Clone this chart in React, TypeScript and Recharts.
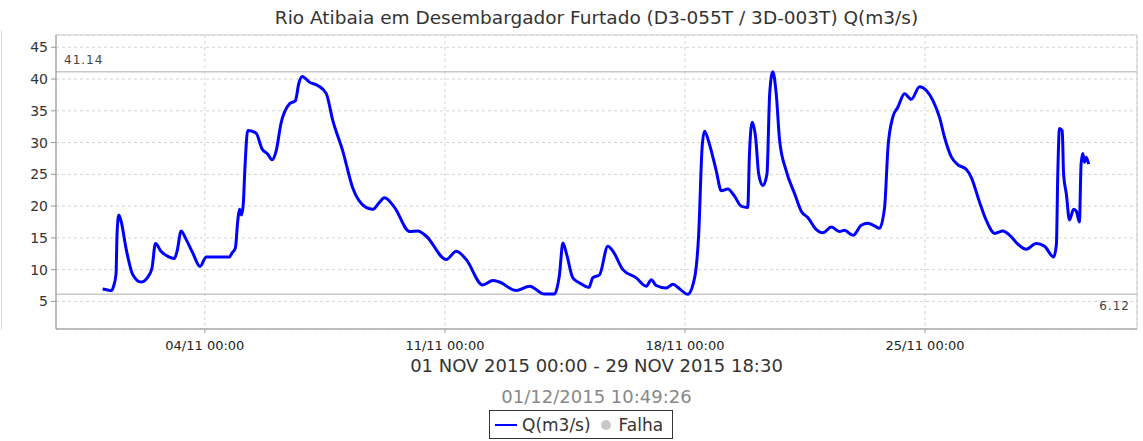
import {
  LineChart, Line, XAxis, YAxis, CartesianGrid, ReferenceLine, ReferenceArea,
} from 'recharts'

// days since 01 NOV 2015 00:00
const days = [
  0.02, 0.16, 0.27, 0.34, 0.41, 0.44, 0.49, 0.56, 0.70, 0.90, 1.14, 1.38, 1.46, 1.56, 1.72, 1.92,
  2.11, 2.19, 2.31, 2.45, 2.65, 2.86, 3.04, 3.72, 3.79, 3.89, 3.96, 4.01, 4.07, 4.12, 4.17, 4.25,
  4.49, 4.67, 4.83, 4.96, 5.08, 5.22, 5.47, 5.64, 5.74, 5.84, 6.05, 6.29, 6.54, 6.73, 7.02, 7.31,
  7.70, 7.90, 8.09, 8.24, 8.53, 8.97, 9.21, 9.45, 10.04, 10.33, 10.62, 11.10, 11.40, 11.59, 12.08,
  12.47, 12.90, 13.19, 13.34, 13.44, 13.55, 13.73, 13.93, 14.20, 14.31, 14.51, 14.75, 14.90, 15.19,
  15.58, 15.87, 16.02, 16.16, 16.45, 16.65, 16.84, 17.08, 17.28, 17.40, 17.50, 17.57, 17.71, 17.91,
  18.06, 18.25, 18.44, 18.64, 18.83, 18.88, 18.96, 19.06, 19.15, 19.27, 19.39, 19.47, 19.56, 19.66,
  19.76, 19.95, 20.20, 20.39, 20.58, 20.83, 21.02, 21.27, 21.51, 21.65, 21.90, 22.14, 22.33, 22.53,
  22.67, 22.82, 22.92, 23.06, 23.21, 23.40, 23.60, 23.84, 24.04, 24.23, 24.42, 24.57, 24.77, 24.96,
  25.20, 25.35, 25.59, 25.79, 26.03, 26.27, 26.47, 26.71, 26.95, 27.24, 27.48, 27.75, 27.83, 27.87,
  27.92, 28.00, 28.04, 28.12, 28.21, 28.33, 28.41, 28.50, 28.55, 28.60, 28.65, 28.70, 28.77,
]

// Q (m3/s)
const flow = [
  6.95, 6.8, 6.7, 7.4, 9.3, 15.6, 18.6, 17.6, 13.4, 9.2, 8.05, 9.2, 10.3, 14.1, 12.9, 12.1,
  11.75, 12.9, 16.1, 14.8, 12.6, 10.5, 12.0, 12.0, 12.6, 13.4, 17.7, 19.5, 18.6, 20.3, 26.1, 31.9,
  31.5, 29.0, 28.2, 27.3, 28.7, 33.0, 36.1, 36.6, 39.3, 40.4, 39.5, 39.0, 37.7, 33.5, 28.7, 22.9,
  19.8, 19.5, 20.6, 21.3, 19.8, 16.0, 16.1, 15.3, 11.6, 12.9, 11.6, 7.6, 8.3, 8.05, 6.7,
  7.4, 6.15, 6.15, 9.2, 14.2, 12.4, 8.7, 7.9, 7.2, 8.7, 9.2, 13.7, 12.9, 10.0,
  8.7, 7.4, 8.4, 7.5, 7.1, 7.7, 7.0, 6.12, 8.7, 15.6, 29.3, 31.8, 29.8, 25.6,
  22.4, 22.7, 21.6, 20.0, 19.8, 28.2, 33.2, 30.8, 25.0, 23.2, 25.0, 37.7, 41.14, 37.7,
  30.3, 25.6, 21.9, 19.2, 18.2, 16.3, 15.8, 16.7, 16.0, 16.2, 15.4, 17.0, 17.3, 16.9,
  16.5, 19.8, 29.3, 34.0, 35.6, 37.7, 36.8, 38.8, 38.2, 36.6, 34.0, 30.8, 27.7, 26.5,
  25.8, 24.5, 20.6, 17.7, 15.7, 16.1, 15.4, 14.0, 13.2, 14.1, 13.7, 12.0, 14.0, 25.0,
  32.2, 31.9, 25.0, 21.9, 17.8, 19.5, 19.2, 17.5, 26.6, 28.3, 26.9, 27.7, 26.6,
]

const tickDays = [3, 10, 17, 24]
const tickLabels = ['04/11 00:00', '11/11 00:00', '18/11 00:00', '25/11 00:00']
const yTicks = [5, 10, 15, 20, 25, 30, 35, 40, 45]
const maxFlow = 41.14
const minFlow = 6.12

const xDomain: [number, number] = [-1.34, 30.18]
const yDomain: [number, number] = [0.66, 46.93]

const data = days.map((d, i) => ({ day: d, q: flow[i] }))

export default function App() {
  return (
    <div style={{ position: 'absolute', left: 0, top: 0, width: 1143, height: 441, background: '#fff', fontFamily: '"DejaVu Sans", sans-serif', overflow: 'hidden' }}>
      <div style={{ position: 'absolute', left: 1, top: 30, width: 1, height: 300, background: '#ddd' }} />
      <div style={{ position: 'absolute', left: 56, width: 1081, top: 7, textAlign: 'center', fontSize: 18.5, color: '#333', whiteSpace: 'nowrap' }}>
        Rio Atibaia em Desembargador Furtado (D3-055T / 3D-003T) Q(m3/s)
      </div>

      <LineChart width={1143} height={441} data={data} margin={{ top: 35, right: 6, bottom: 92, left: 0 }}>
        <CartesianGrid stroke="#d4d4d4" strokeDasharray="3 3" />
        <ReferenceArea x1={xDomain[0]} x2={xDomain[1]} y1={yDomain[0]} y2={yDomain[1]} fill="none" stroke="#ccc" />
        <XAxis
          dataKey="day"
          type="number"
          domain={xDomain}
          ticks={tickDays}
          tickFormatter={(v: number) => tickLabels[tickDays.indexOf(v)] ?? ''}
          allowDataOverflow
          height={20}
          tickSize={4}
          tickMargin={8}
          stroke="#999"
          tick={{ fontSize: 13, fill: '#222' }}
        />
        <YAxis
          type="number"
          domain={yDomain}
          ticks={yTicks}
          allowDataOverflow
          width={56}
          tickSize={5}
          tickMargin={3}
          stroke="#999"
          tick={{ fontSize: 14, fill: '#333' }}
        />
        <ReferenceLine
          y={maxFlow}
          stroke="#c8c8c8"
          strokeWidth={1.5}
          label={{ value: maxFlow.toFixed(2), position: 'insideBottomLeft', offset: 8, fontSize: 12, fill: '#444', letterSpacing: 1 }}
        />
        <ReferenceLine
          y={minFlow}
          stroke="#c8c8c8"
          strokeWidth={1.5}
          label={{ value: minFlow.toFixed(2), position: 'insideTopRight', offset: 7, fontSize: 12, fill: '#444', letterSpacing: 1 }}
        />
        <Line type="monotone" dataKey="q" stroke="#0000ff" strokeWidth={3} strokeLinejoin="round" dot={false} isAnimationActive={false} />
      </LineChart>

      <div style={{ position: 'absolute', left: 56, width: 1081, top: 355, textAlign: 'center', fontSize: 18, color: '#333', whiteSpace: 'nowrap' }}>
        01 NOV 2015 00:00 - 29 NOV 2015 18:30
      </div>
      <div style={{ position: 'absolute', left: 56, width: 1081, top: 386, textAlign: 'center', fontSize: 18, color: '#888', whiteSpace: 'nowrap' }}>
        01/12/2015 10:49:26
      </div>
      <div style={{ position: 'absolute', left: 489, top: 410, width: 182, height: 27, border: '1px solid #333', display: 'flex', alignItems: 'center', fontSize: 17, color: '#333', whiteSpace: 'nowrap' }}>
        <span style={{ width: 22, height: 2, background: '#0000ff', marginLeft: 5, marginRight: 5 }} />
        <span>Q(m3/s)</span>
        <span style={{ width: 10, height: 10, borderRadius: '50%', background: '#c8c8c8', marginLeft: 10, marginRight: 8 }} />
        <span>Falha</span>
      </div>
    </div>
  )
}
